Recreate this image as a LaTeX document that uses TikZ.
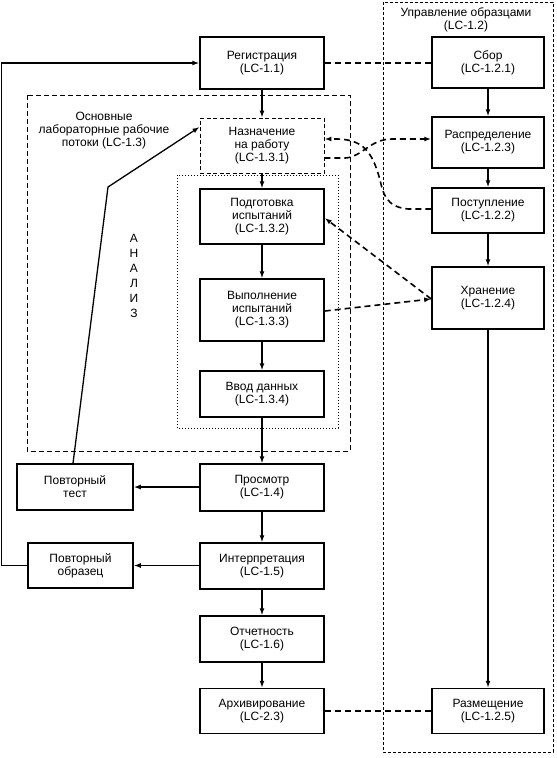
\documentclass[tikz,border=0pt]{standalone}
\usepackage{fontspec}
\setmainfont{Liberation Sans}
\usetikzlibrary{arrows.meta}
\begin{document}
\begin{tikzpicture}[x=1pt,y=-1pt,
  txt/.style={font=\fontsize{12}{13}\selectfont},
  box/.style={draw, line width=1.5pt, inner sep=0pt, align=center, txt},
  lbox/.style={box, minimum width=124pt},
  rbox/.style={box, minimum width=112pt},
  dbox/.style={draw, line width=0.9pt, dash pattern=on 4pt off 2.5pt, inner sep=0pt, align=center, txt, minimum width=124pt},
  arr/.style={line width=1.3pt, -{Latex[length=7pt,width=5pt]}},
  dline/.style={line width=1.6pt, dash pattern=on 6pt off 4pt},
  darr/.style={dline, -{Latex[length=7pt,width=5pt]}},
  lbl/.style={align=center, inner sep=0pt, txt}
]
\useasboundingbox (0,0) rectangle (557,758);
% containers
\draw[line width=0.8pt, dash pattern=on 3pt off 2pt] (383,2) rectangle (553,752);
\draw[line width=1pt, dash pattern=on 5pt off 3pt] (27,95) rectangle (350,451);
\draw[line width=1pt, dotted] (177,175) rectangle (338,428);
\node[lbl] (uprt) at (466,19.5) {Управление образцами\\(LC-1.2)};
\node[lbl] (osnt) at (104,131) {Основные\\лабораторные рабочие\\потоки (LC-1.3)};
\node[lbl, font=\fontsize{12}{15}\selectfont] (anal) at (134,275.5) {А\\Н\\А\\Л\\И\\З};
% left column
\node[lbox, minimum height=52pt] (reg) at (262,63) {Регистрация\\(LC-1.1)};
\node[dbox, minimum height=55pt] (nazn) at (262,145.5) {Назначение\\на работу\\(LC-1.3.1)};
\node[lbox, minimum height=55pt] (podg) at (262,216.5) {Подготовка\\испытаний\\(LC-1.3.2)};
\node[lbox, minimum height=62pt] (vyp) at (262,310) {Выполнение\\испытаний\\(LC-1.3.3)};
\node[lbox, minimum height=46pt] (vvod) at (262,394) {Ввод данных\\(LC-1.3.4)};
\node[lbox, minimum height=47pt] (prosm) at (262,487.5) {Просмотр\\(LC-1.4)};
\node[lbox, minimum height=46pt] (interp) at (262,566) {Интерпретация\\(LC-1.5)};
\node[lbox, minimum height=46pt] (otch) at (262,639) {Отчетность\\(LC-1.6)};
\node[lbox, minimum height=45pt] (arch) at (262,711) {Архивирование\\(LC-2.3)};
% side boxes
\node[box, minimum width=116pt, minimum height=46pt] (povtest) at (75,487) {Повторный\\тест};
\node[box, minimum width=105pt, minimum height=45pt] (povobr) at (80.5,565.5) {Повторный\\образец};
% right column
\node[rbox, minimum height=51pt] (sbor) at (488,62.5) {Сбор\\(LC-1.2.1)};
\node[rbox, minimum height=51pt] (raspr) at (488,142.5) {Распределение\\(LC-1.2.3)};
\node[rbox, minimum height=45pt] (post) at (488,210.5) {Поступление\\(LC-1.2.2)};
\node[rbox, minimum height=62pt] (hran) at (488,298) {Хранение\\(LC-1.2.4)};
\node[rbox, minimum height=45pt] (razm) at (488,711) {Размещение\\(LC-1.2.5)};
% main flow
\draw[arr] (reg) -- (nazn);
\draw[arr] (nazn) -- (podg);
\draw[arr] (podg) -- (vyp);
\draw[arr] (vyp) -- (vvod);
\draw[arr] (vvod) -- (prosm);
\draw[arr] (prosm) -- (interp);
\draw[arr] (interp) -- (otch);
\draw[arr] (otch) -- (arch);
\draw[arr] (sbor) -- (raspr);
\draw[arr] (raspr) -- (post);
\draw[arr] (post) -- (hran);
\draw[arr] (hran) -- (razm);
\draw[arr] (prosm.west |- povtest.east) -- (povtest.east);
\draw[arr] (interp.west |- povobr.east) -- (povobr.east);
% loops back
\draw[arr] (povobr.west) -- ++(-25.5,0) |- (reg.west);
\coordinate (bend) at (108,187);
\draw[arr] ([xshift=-2pt]povtest.north) -- (bend) -- ([yshift=18.5pt]nazn.west);
% dashed links
\draw[dline] (reg.east) -- (sbor.west |- reg.east);
\draw[dline] (arch.east) -- (razm.west);
\draw[darr] ([yshift=-12.5pt]nazn.east) -- ++(21,0) .. controls (362,157) and (370,139) .. (392,139) -- ([yshift=3.5pt]raspr.west);
\draw[darr] ([yshift=1.5pt]post.west) -- ++(-23,0) .. controls (385,207) and (383,192) .. (380,180) .. controls (372,150) and (362,140) .. (338,139) -- ([yshift=6.5pt]nazn.east);
\draw[darr] ([yshift=-1pt]hran.west) -- ([yshift=-1.5pt]podg.east);
\draw[darr] ([yshift=-1pt]vyp.east) -- ([yshift=-1pt]hran.west);
\end{tikzpicture}
\end{document}
